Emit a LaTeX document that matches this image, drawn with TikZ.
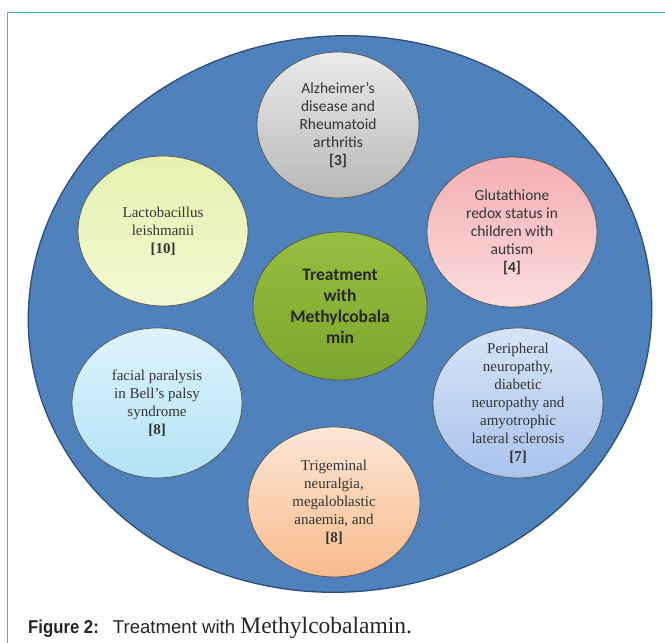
\documentclass[tikz,border=0pt]{standalone}
\usepackage{fontspec}
\setmainfont{Liberation Serif}
\newfontfamily\calfont{Carlito}
\newfontfamily\capsans{Liberation Sans}
\newfontfamily\capnarrow[FakeStretch=0.9]{Liberation Sans}
\usetikzlibrary{shapes.geometric}
\definecolor{bgblue}{HTML}{4F81BD}
\definecolor{bgedge}{HTML}{2F4F78}
\definecolor{frameteal}{HTML}{3CBFA6}
\definecolor{txtc}{HTML}{333333}
\definecolor{pinkA}{HTML}{F3AFB3}
\definecolor{pinkB}{HTML}{FCDCDD}
\definecolor{limeA}{HTML}{E6F1B0}
\definecolor{limeB}{HTML}{F2F8D2}
\definecolor{grnA}{HTML}{98BE40}
\definecolor{grnB}{HTML}{7AA52C}
\definecolor{perA}{HTML}{D6E4F7}
\definecolor{perB}{HTML}{A9C3EC}
\definecolor{cyanA}{HTML}{DDF3FC}
\definecolor{cyanB}{HTML}{B3E3F6}
\definecolor{orA}{HTML}{FDE7D6}
\definecolor{orB}{HTML}{F8BB8C}
\begin{document}
\begin{tikzpicture}[x=1pt,y=-1pt,
  bub/.style={ellipse, draw=black!65, line width=0.8pt, minimum width=170pt, minimum height=150pt, inner sep=0pt},
  ctxt/.style={align=center, inner sep=0pt, text=txtc, font=\calfont\fontsize{15.5}{18}\selectfont},
  stxt/.style={align=center, inner sep=0pt, text=txtc, font=\fontsize{15}{18}\selectfont},
]
\useasboundingbox (0,0) rectangle (665,643);
\fill[white] (0,0) rectangle (665,643);
% frame
\coordinate (fbl) at (7.5,643);
\coordinate (ftl) at (7.5,12.5);
\coordinate (ftr) at (665,12.5);
\draw[frameteal, line width=1.2pt] (fbl) -- (ftl) -- (ftr);
% background ellipse
\node[ellipse, draw=bgedge, fill=bgblue, line width=1.3pt, minimum width=624pt, minimum height=556pt, inner sep=0pt, rotate=5] (bg) at (340,314) {};
% bubbles
\node[bub, minimum width=162pt, minimum height=146pt, top color=white!92!black, bottom color=black!28] (alz) at (338,125) {};
\node[ctxt] (alzt) at (alz) {Alzheimer’s\\disease and\\Rheumatoid\\arthritis\\\textbf{[3]}};

\node[bub, top color=pinkA, bottom color=pinkB] (glu) at (512,232) {};
\node[ctxt] (glut) at (glu) {Glutathione\\redox status in\\children with\\autism\\\textbf{[4]}};

\node[bub, top color=limeA, bottom color=limeB] (lac) at (163,231) {};
\node[stxt] (lact) at (lac) {Lactobacillus\\leishmanii\\\textbf{[10]}};

\node[bub, minimum width=174pt, minimum height=148pt, top color=grnA, bottom color=grnB] (mid) at (340,306) {};
\node[align=center, inner sep=0pt, text=black!85, font=\calfont\bfseries\fontsize{17.5}{21}\selectfont] (midt) at (mid) {Treatment\\with\\Methylcobala\\min};

\node[bub, top color=perA, bottom color=perB] (per) at (518,403) {};
\node[stxt] (pert) at (per) {Peripheral\\neuropathy,\\diabetic\\neuropathy and\\amyotrophic\\lateral sclerosis\\\textbf{[7]}};

\node[bub, top color=cyanA, bottom color=cyanB] (fac) at (157,403) {};
\node[stxt] (fact) at (fac) {facial paralysis\\in Bell’s palsy\\syndrome\\\textbf{[8]}};

\node[bub, minimum width=172pt, top color=orA, bottom color=orB] (tri) at (334,502) {};
\node[stxt] (trit) at (tri) {Trigeminal\\neuralgia,\\megaloblastic\\anaemia, and\\\textbf{[8]}};

% caption
\node[anchor=base west, inner sep=0pt, text=black!85] (cap) at (28,633)
  {\capnarrow\fontsize{18.6}{20}\selectfont\bfseries Figure 2:\hspace{14pt}\capsans\mdseries Treatment with \rmfamily\fontsize{23.5}{24}\selectfont Methylcobalamin.};
\end{tikzpicture}
\end{document}
